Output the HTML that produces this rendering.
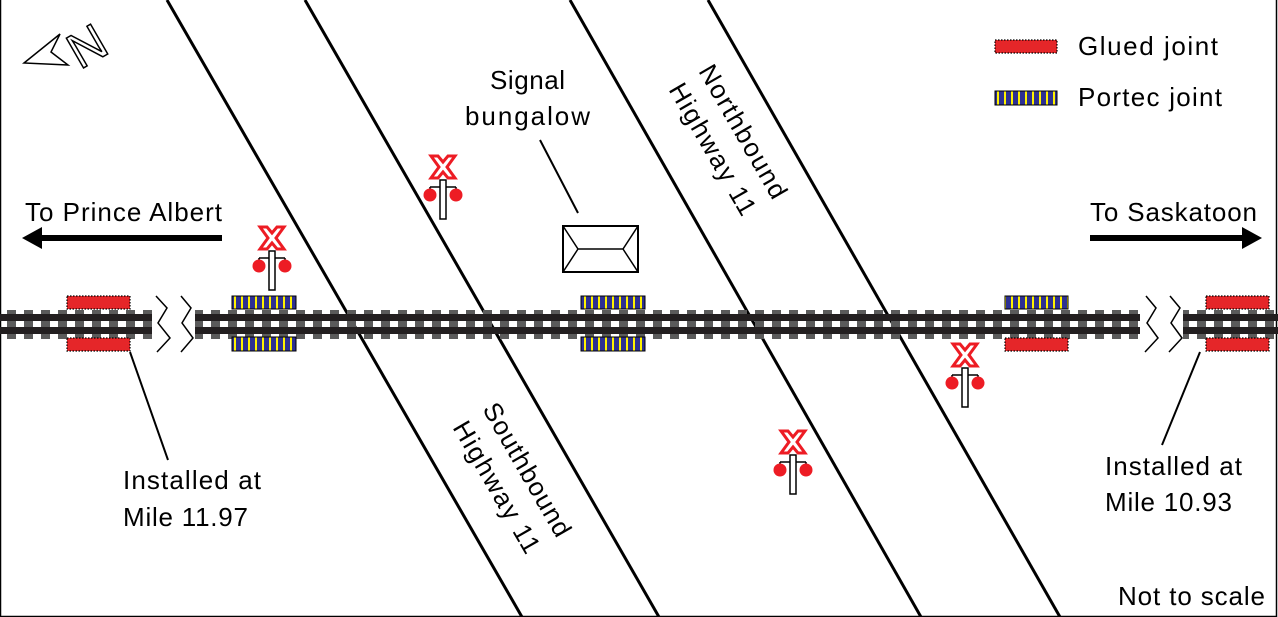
<!DOCTYPE html>
<html><head><meta charset="utf-8"><style>
html,body{margin:0;padding:0;background:#fff}
svg{display:block}
text{font-family:"Liberation Sans",sans-serif;font-size:26px;fill:#000}
</style></head><body>
<svg width="1278" height="617" viewBox="0 0 1278 617" xmlns="http://www.w3.org/2000/svg">
<defs>
<pattern id="ties" x="7" y="0" width="17" height="617" patternUnits="userSpaceOnUse">
<rect x="0" y="310" width="9" height="29" fill="#5b5b5b"/>
</pattern>
<pattern id="stripes" x="0" y="0" width="7" height="20" patternUnits="userSpaceOnUse">
<rect x="0" y="0" width="7" height="20" fill="#2e3192"/>
<rect x="3" y="0" width="2" height="20" fill="#fff200"/>
</pattern>
<g id="sig">
<path d="M-12,-11 L-5,-11 L0,-5 L5,-11 L12,-11 L4,0 L12,11 L5,11 L0,5 L-5,11 L-12,11 L-4,0 Z" fill="#fff" stroke="#ed1c24" stroke-width="3"/>
<path d="M-13,20 H13 M-13,20 V26 M13,20 V26" stroke="#000" stroke-width="1.5" fill="none"/>
<rect x="-3" y="13" width="6" height="39" fill="#fff" stroke="#000" stroke-width="1.5"/>
<circle cx="-13" cy="28" r="6.5" fill="#ed1c24"/>
<circle cx="13" cy="28" r="6.5" fill="#ed1c24"/>
</g>
</defs>
<path d="M0.5,0 V616.5 H1276.5 V0" fill="none" stroke="#000" stroke-width="1.5"/>
<g stroke="#000" stroke-width="3">
<line x1="167" y1="0" x2="522" y2="617"/>
<line x1="305" y1="0" x2="659" y2="617"/>
<line x1="570" y1="0" x2="921" y2="617"/>
<line x1="708" y1="0" x2="1060" y2="617"/>
</g>
<g>
<rect x="0" y="300" width="152" height="45" fill="url(#ties)"/>
<rect x="195" y="300" width="945" height="45" fill="url(#ties)"/>
<rect x="1183" y="300" width="95" height="45" fill="url(#ties)"/>
<g fill="#231f20">
<rect x="0" y="314" width="152" height="7"/><rect x="0" y="327" width="152" height="7"/>
<rect x="195" y="314" width="945" height="7"/><rect x="195" y="327" width="945" height="7"/>
<rect x="1183" y="314" width="95" height="7"/><rect x="1183" y="327" width="95" height="7"/>
</g>
</g>
<g stroke="#000" stroke-width="1.5" fill="none">
<path d="M156,296 L167,308 L158,323 L170,338 L157,352"/>
<path d="M181,296 L191,308 L182,323 L193,338 L181,352"/>
<path d="M1146,296 L1156,308 L1147,323 L1158,338 L1145,352"/>
<path d="M1170,296 L1180,308 L1171,323 L1182,338 L1169,352"/>
</g>
<g fill="#e52629" stroke="#000" stroke-width="1.2" stroke-dasharray="1.5,1.5">
<rect x="67" y="296" width="63" height="13"/><rect x="67" y="338" width="63" height="13"/>
<rect x="1206" y="296" width="63" height="13"/><rect x="1206" y="338" width="63" height="13"/>
<rect x="1005" y="338" width="63" height="13"/>
<rect x="995" y="40" width="62" height="13"/>
</g>
<g fill="url(#stripes)" stroke="#000" stroke-width="1">
<rect x="232" y="296" width="64" height="13"/><rect x="232" y="337" width="64" height="14"/>
<rect x="581" y="296" width="64" height="13"/><rect x="581" y="337" width="64" height="14"/>
<rect x="1005" y="296" width="63" height="13"/>
<rect x="995" y="91" width="62" height="14"/>
</g>
<use href="#sig" x="272" y="238"/>
<use href="#sig" x="443" y="167"/>
<use href="#sig" x="965" y="355"/>
<use href="#sig" x="793" y="442"/>
<g fill="#fff" stroke="#000" stroke-width="2">
<rect x="563" y="226" width="75" height="46"/>
<path d="M563,226 L578,249 H623 L638,226 M563,272 L578,249 M623,249 L638,272" fill="none" stroke-width="1.5"/>
</g>
<line x1="540" y1="140" x2="578" y2="213" stroke="#000" stroke-width="2"/>
<line x1="40" y1="238" x2="222" y2="238" stroke="#000" stroke-width="6"/>
<polygon points="22,238 42,227 42,249" fill="#000"/>
<line x1="1090" y1="238" x2="1245" y2="238" stroke="#000" stroke-width="6"/>
<polygon points="1262,238 1242,227 1242,249" fill="#000"/>
<line x1="130" y1="352" x2="168" y2="460" stroke="#000" stroke-width="2"/>
<line x1="1200" y1="352" x2="1162" y2="445" stroke="#000" stroke-width="2"/>
<polygon points="24,63 60,34 51,52 68,65" fill="#fff" stroke="#000" stroke-width="1.5"/>
<text x="0" y="0" transform="translate(80,70) rotate(-30)" style="fill:#fff;stroke:#000;stroke-width:1.5;font-size:50px">N</text>
<text x="25" y="221" textLength="197">To Prince Albert</text>
<text x="1090" y="221" textLength="167">To Saskatoon</text>
<text x="490" y="89" textLength="75">Signal</text>
<text x="465" y="125" textLength="125">bungalow</text>
<text x="123" y="489" textLength="138">Installed at</text>
<text x="123" y="526" textLength="125">Mile 11.97</text>
<text x="1105" y="475" textLength="137">Installed at</text>
<text x="1105" y="511" textLength="127">Mile 10.93</text>
<text x="1118" y="605" textLength="147">Not to scale</text>
<text x="1078" y="55" textLength="140">Glued joint</text>
<text x="1078" y="106" textLength="144">Portec joint</text>
<g transform="translate(516,476) rotate(60)">
<text x="0" y="-4" text-anchor="middle" textLength="150">Southbound</text>
<text x="0" y="31" text-anchor="middle" textLength="148">Highway 11</text>
</g>
<g transform="translate(732,138) rotate(60)">
<text x="0" y="-4" text-anchor="middle" textLength="150">Northbound</text>
<text x="0" y="31" text-anchor="middle" textLength="148">Highway 11</text>
</g>
</svg>
</body></html>
